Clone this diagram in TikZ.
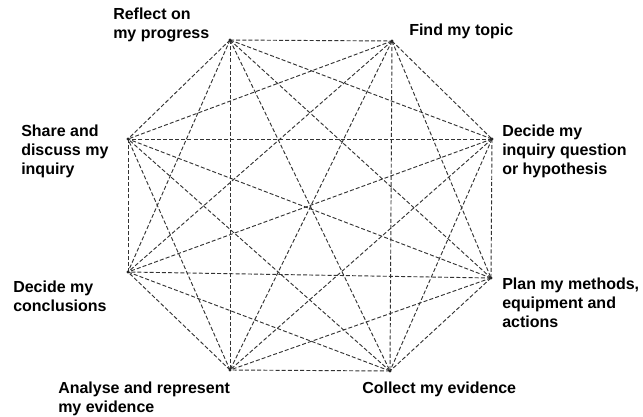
\documentclass[tikz,border=0pt]{standalone}
\usepackage{fontspec}
\setmainfont{Liberation Sans}
\begin{document}
\begin{tikzpicture}[x=0.75pt,y=-0.75pt,
  link/.style={dash pattern=on 3pt off 1.6pt, line width=0.7pt, black!80},
  lbl/.style={anchor=base west, align=left, inner sep=0pt,
    font=\fontsize{12}{14.25}\selectfont\bfseries}]
\useasboundingbox (0,0) rectangle (643,417);
% corners of the octagon
\coordinate (p1) at (230,40);
\coordinate (p2) at (392,41);
\coordinate (p3) at (492,139);
\coordinate (p4) at (491,278);
\coordinate (p5) at (390,371);
\coordinate (p6) at (230,370);
\coordinate (p7) at (128,272);
\coordinate (p8) at (128,139);
% every corner to every other
\foreach \i in {1,...,8}
  \foreach \j in {1,...,8}
    {\ifnum\i<\j \draw[link] (p\i) -- (p\j); \fi}
\foreach \i in {1,...,8}
  \fill[black!85] (p\i) circle (0.4mm);
% stages (anchored at the baseline of the last line)
\node[lbl] (reflect) at (113,39) {Reflect on\\my progress};
\node[lbl] (topic) at (409,36) {Find my topic};
\node[lbl] (question) at (502,175) {Decide my\\inquiry question\\or hypothesis};
\node[lbl] (plan) at (502,327) {Plan my methods,\\equipment and\\actions};
\node[lbl] (collect) at (362,393) {Collect my evidence};
\node[lbl] (analyse) at (58,412) {Analyse and represent\\my evidence};
\node[lbl] (conclude) at (13,311) {Decide my\\conclusions};
\node[lbl] (share) at (21,175) {Share and\\discuss my\\inquiry};
\end{tikzpicture}
\end{document}
